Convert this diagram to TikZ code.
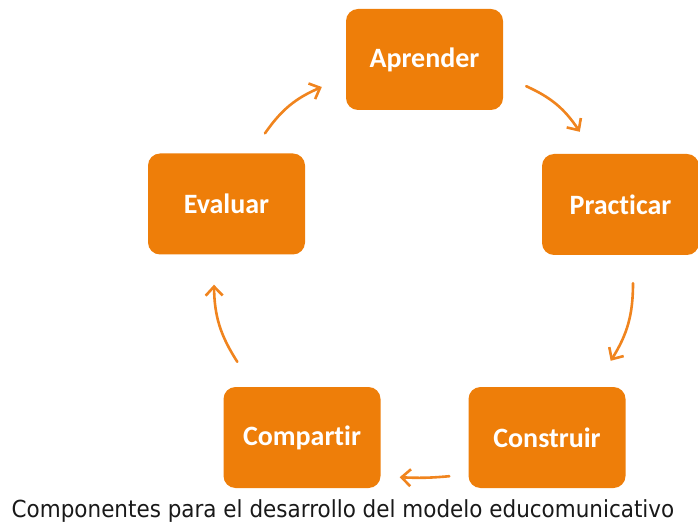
\documentclass[tikz,border=0pt]{standalone}
\usepackage{fontspec}
\usetikzlibrary{arrows.meta,calc}
\newfontfamily\boxfont{Carlito}[Ligatures=NoCommon]
\newfontfamily\capfont{DejaVu Sans}
\definecolor{orng}{RGB}{238,126,9}
\definecolor{arrw}{RGB}{240,132,30}
\begin{document}
\begin{tikzpicture}[x=1pt,y=-1pt,
  stepbox/.style={rectangle,rounded corners=12pt,fill=orng,draw=none,
    minimum width=157pt,minimum height=101pt,inner sep=0pt,
    text=white,font=\boxfont\bfseries\fontsize{28}{32}\selectfont},
  conn/.style={draw=arrw,line width=2.6pt,line cap=round,
    -{Straight Barb[length=9pt,width=17pt]}}]
\useasboundingbox (0,0) rectangle (698,526);
\node[stepbox] (apr) at (424.5,59.5) {Aprender};
\node[stepbox] (pra) at (620.5,204.5) {Practicar};
\node[stepbox] (eva) at (226.5,204) {Evaluar};
\node[stepbox] (com) at (302,437.5) {Compartir};
\node[stepbox] (con) at (547,437.5) {Construir};
\node[font=\capfont\fontsize{23.5}{26}\selectfont,text=black!90,inner sep=0pt] (cap) at (343,511) {\scalebox{0.915}[1]{Componentes para el desarrollo del modelo educomunicativo}};
\draw[conn] ($(apr.south east)+(23,-24)$) to[bend left=16] ($(pra.north west)+(38,-22)$);
\draw[conn] ($(pra.south)+(12.5,28)$) to[bend left=16] ($(con.north east)+(-15,-26)$);
\draw[conn] ($(con.south west)+(-19,-12)$) to[bend left=4] ($(com.south east)+(19,-11)$);
\draw[conn] ($(com.north west)+(14,-25)$) to[bend left=16] ($(eva.south)+(-12.5,30)$);
\draw[conn] ($(eva.north)+(38.5,-20)$) to[bend left=16] ($(apr.west)+(-24,27.5)$);
\end{tikzpicture}
\end{document}
